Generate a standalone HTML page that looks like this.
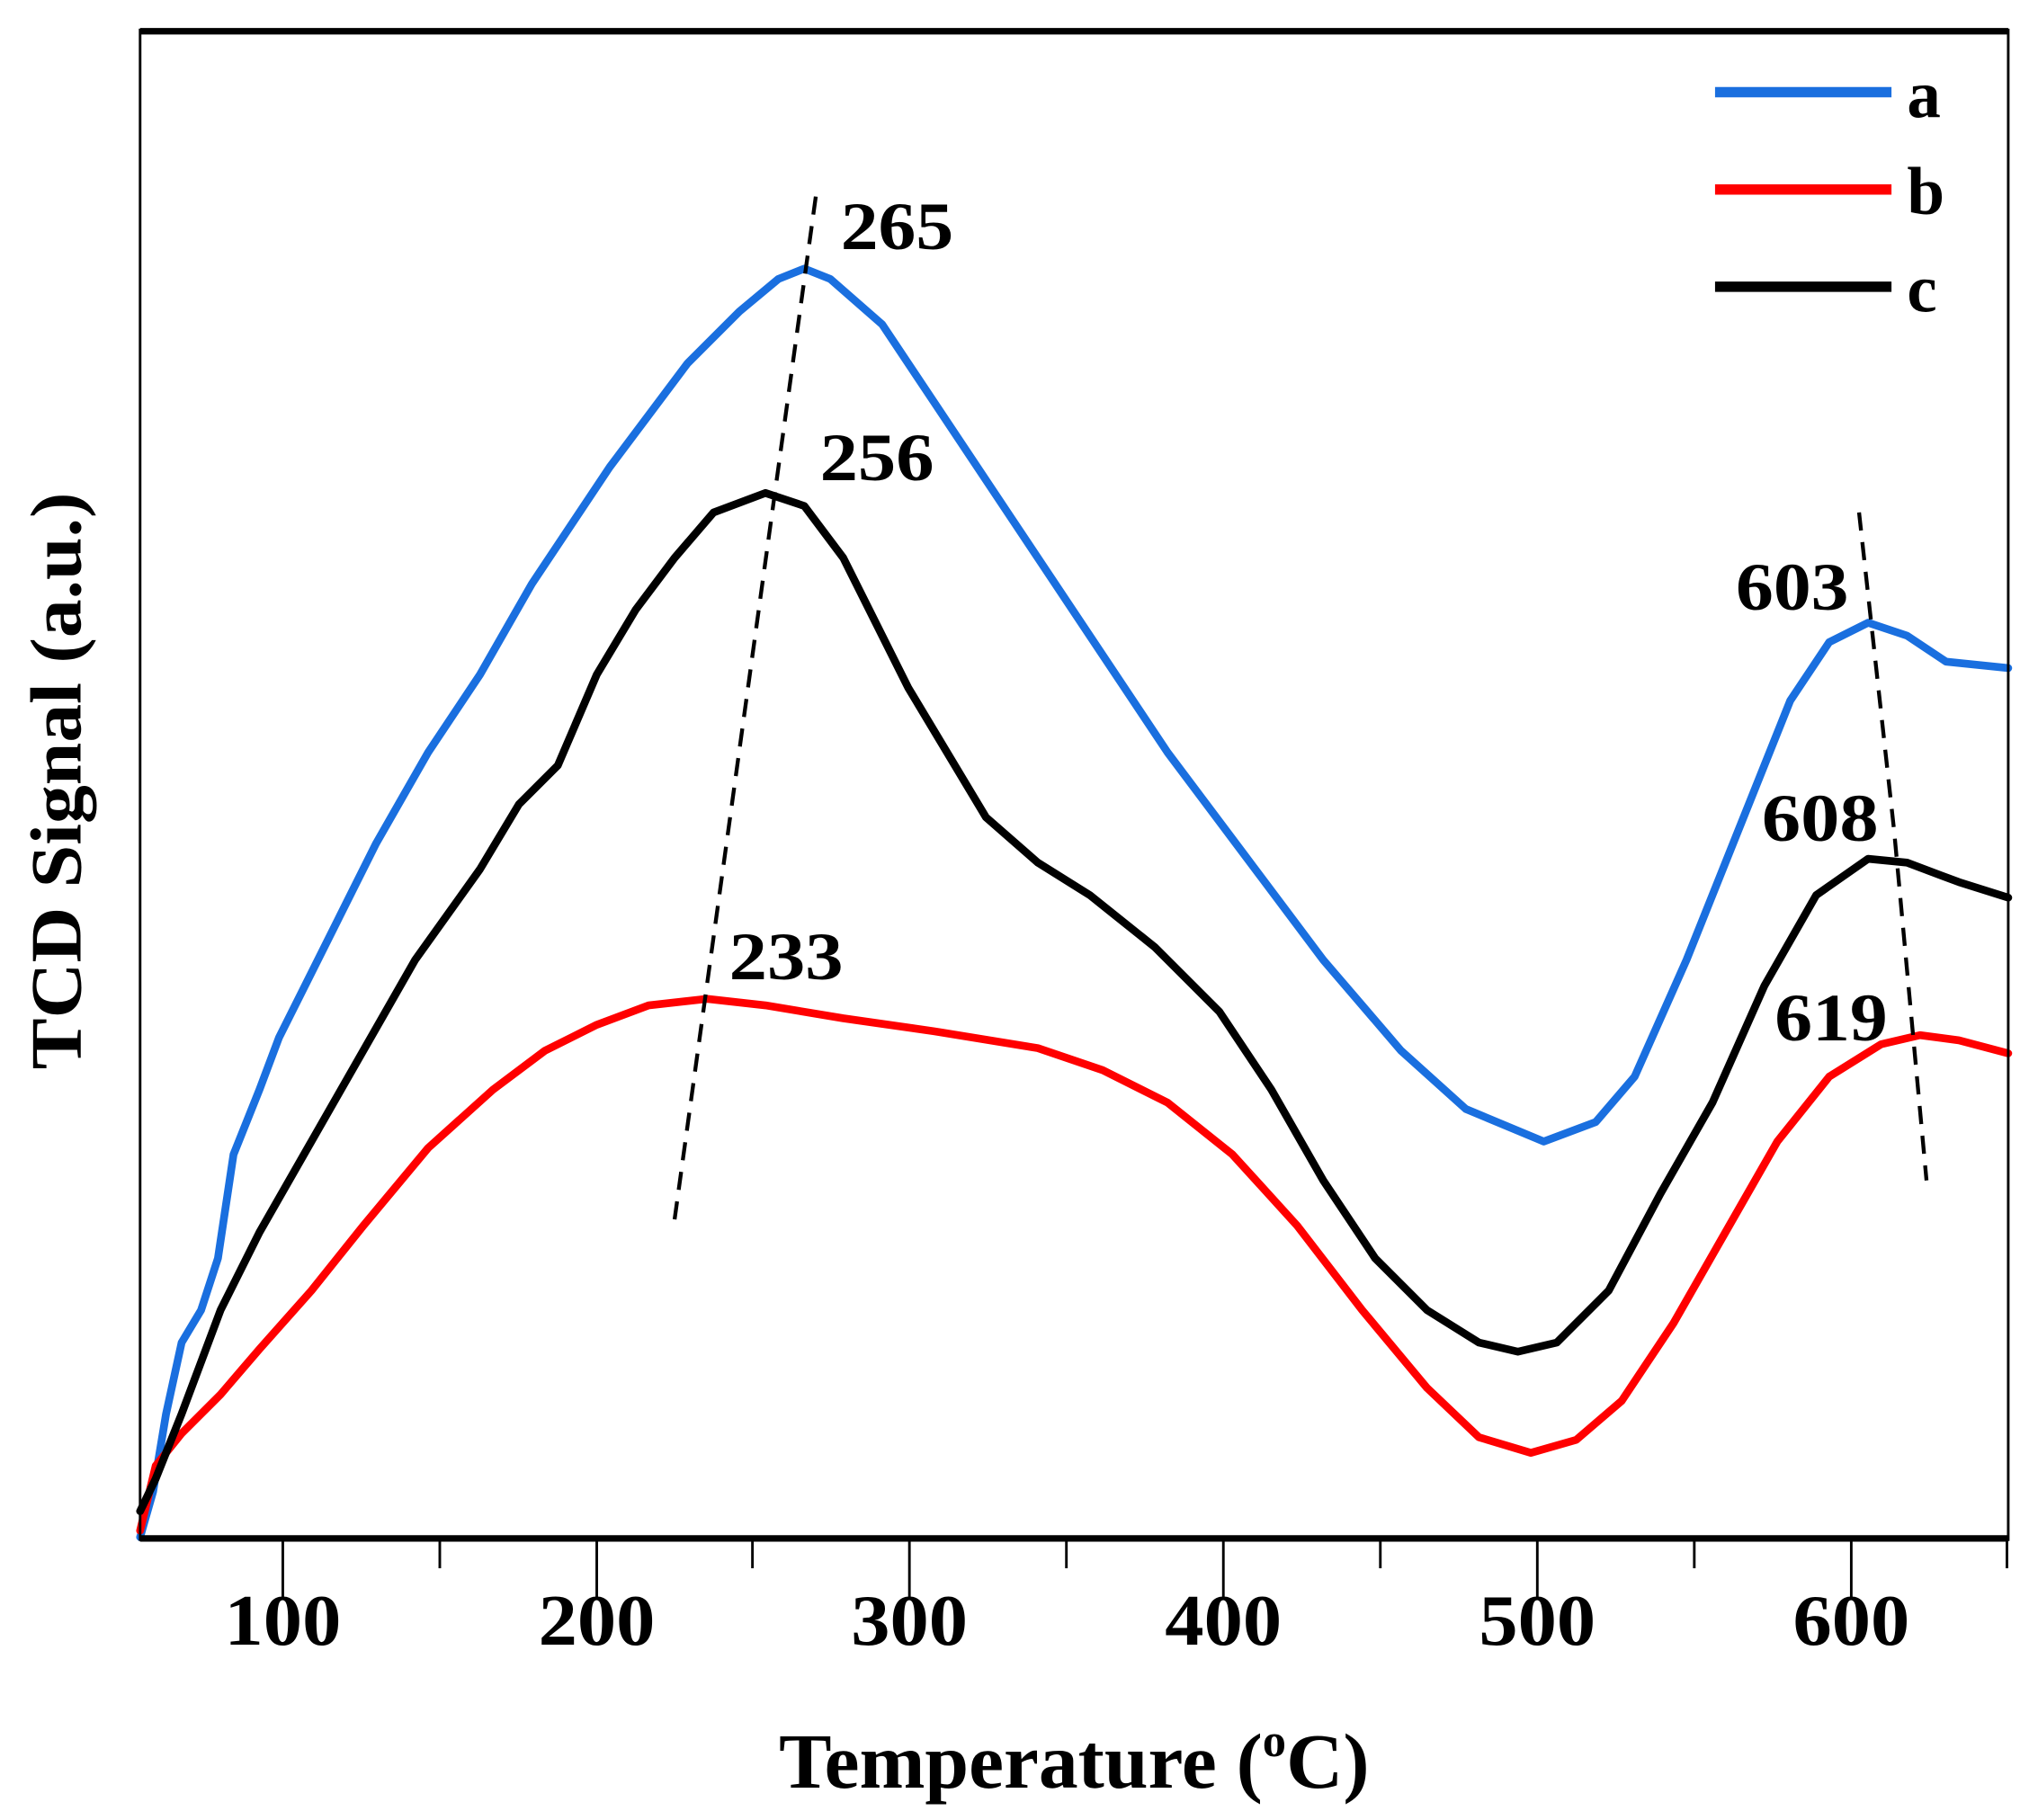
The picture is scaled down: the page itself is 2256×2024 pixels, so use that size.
<!DOCTYPE html>
<html><head><meta charset="utf-8"><style>html,body{margin:0;padding:0;background:#fff}svg{display:block}</style></head>
<body>
<svg width="2256" height="2024" viewBox="0 0 1564 1403" xmlns="http://www.w3.org/2000/svg" font-family="'Liberation Serif', serif" font-weight="bold">
<rect width="1564" height="1403" fill="#fff"/>
<g fill="none" stroke-linejoin="round" stroke-linecap="round" stroke-width="6">
<path stroke="#1a6fdf" d="M108,1185 L118,1150 L128,1090 L140,1035 L155,1010 L168,970 L180,890 L200,840 L215,800 L235,760 L260,710 L290,650 L330,580 L370,520 L410,450 L470,360 L530,280 L570,240 L600,215 L620,207 L640,215 L680,250 L720,310 L780,400 L840,490 L900,580 L960,660 L1020,740 L1080,810 L1130,855 L1190,880 L1230,865 L1260,830 L1300,740 L1340,640 L1380,540 L1410,495 L1440,480 L1470,490 L1500,510 L1548,515"/>
<path stroke="#ff0000" d="M108,1180 L120,1130 L140,1105 L170,1075 L200,1040 L240,995 L280,945 L330,885 L380,840 L420,810 L460,790 L500,775 L545,770 L590,775 L650,785 L720,795 L800,808 L850,825 L900,850 L950,890 L1000,945 L1050,1010 L1100,1070 L1140,1108 L1180,1120 L1215,1110 L1250,1080 L1290,1020 L1330,950 L1370,880 L1410,830 L1450,805 L1480,798 L1510,802 L1548,812"/>
<path stroke="#000" d="M108,1165 L120,1140 L140,1090 L170,1010 L200,950 L240,880 L280,810 L320,740 L370,670 L400,620 L430,590 L460,520 L490,470 L520,430 L550,395 L590,380 L620,390 L650,430 L700,530 L760,630 L800,665 L840,690 L890,730 L940,780 L980,840 L1020,910 L1060,970 L1100,1010 L1140,1035 L1170,1042 L1200,1035 L1240,995 L1280,920 L1320,850 L1360,760 L1400,690 L1440,662 L1470,665 L1510,680 L1548,692"/>
</g>
<g fill="none" stroke="#000" stroke-width="3" stroke-dasharray="14,9">
<path d="M520,940 L630,143"/>
<path d="M1433,395 L1460,640 L1485,910"/>
</g>
<g stroke="#000" fill="none">
<line x1="108" y1="24" x2="1548" y2="24" stroke-width="5"/>
<line x1="108" y1="1186" x2="1548" y2="1186" stroke-width="5"/>
<line x1="108" y1="22" x2="108" y2="1188" stroke-width="2"/>
<line x1="1548" y1="22" x2="1548" y2="1188" stroke-width="2"/>
<g stroke-width="2">
<line x1="218" y1="1186" x2="218" y2="1232"/><line x1="460" y1="1186" x2="460" y2="1232"/><line x1="701" y1="1186" x2="701" y2="1232"/><line x1="943" y1="1186" x2="943" y2="1232"/><line x1="1185" y1="1186" x2="1185" y2="1232"/><line x1="1427" y1="1186" x2="1427" y2="1232"/>
<line x1="339" y1="1186" x2="339" y2="1209"/><line x1="580" y1="1186" x2="580" y2="1209"/><line x1="822" y1="1186" x2="822" y2="1209"/><line x1="1064" y1="1186" x2="1064" y2="1209"/><line x1="1306" y1="1186" x2="1306" y2="1209"/><line x1="1547" y1="1186" x2="1547" y2="1209"/>
</g>
</g>
<g font-size="56" text-anchor="middle" fill="#000">
<text x="218" y="1268" textLength="90" lengthAdjust="spacingAndGlyphs">100</text>
<text x="460" y="1268" textLength="90" lengthAdjust="spacingAndGlyphs">200</text>
<text x="701" y="1268" textLength="90" lengthAdjust="spacingAndGlyphs">300</text>
<text x="943" y="1268" textLength="90" lengthAdjust="spacingAndGlyphs">400</text>
<text x="1185" y="1268" textLength="90" lengthAdjust="spacingAndGlyphs">500</text>
<text x="1427" y="1268" textLength="90" lengthAdjust="spacingAndGlyphs">600</text>
</g>
<text x="828" y="1378" font-size="60" text-anchor="middle" textLength="455" lengthAdjust="spacingAndGlyphs">Temperature (<tspan font-size="36" dy="-24">o</tspan><tspan dy="24">C)</tspan></text>
<text transform="translate(62,602) rotate(-90)" font-size="56" text-anchor="middle" textLength="445" lengthAdjust="spacingAndGlyphs">TCD Signal (a.u.)</text>
<g font-size="52" fill="#000">
<text x="648" y="192" textLength="87" lengthAdjust="spacingAndGlyphs">265</text>
<text x="632" y="370" textLength="88" lengthAdjust="spacingAndGlyphs">256</text>
<text x="562" y="755" textLength="88" lengthAdjust="spacingAndGlyphs">233</text>
<text x="1338" y="470" textLength="87" lengthAdjust="spacingAndGlyphs">603</text>
<text x="1358" y="648" textLength="90" lengthAdjust="spacingAndGlyphs">608</text>
<text x="1368" y="802" textLength="87" lengthAdjust="spacingAndGlyphs">619</text>
</g>
<g stroke-width="8">
<line x1="1322" y1="71" x2="1458" y2="71" stroke="#1a6fdf"/>
<line x1="1322" y1="146" x2="1458" y2="146" stroke="#ff0000"/>
<line x1="1322" y1="221" x2="1458" y2="221" stroke="#000"/>
</g>
<g font-size="52" fill="#000">
<text x="1470" y="90">a</text>
<text x="1470" y="165">b</text>
<text x="1470" y="240">c</text>
</g>
</svg>
</body></html>
